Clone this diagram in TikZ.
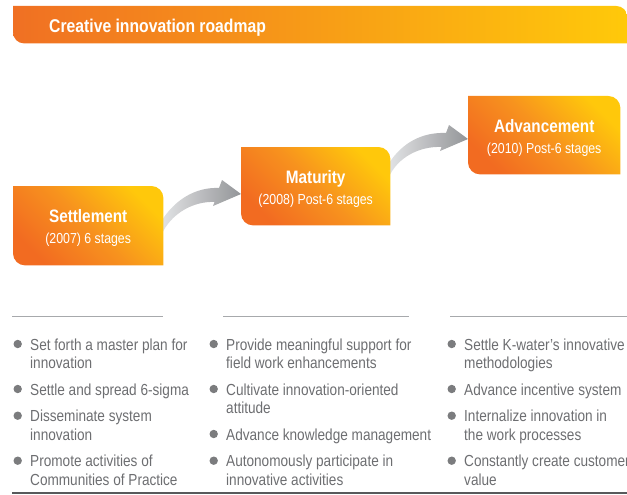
\documentclass[tikz,border=0pt]{standalone}
\usepackage{fontspec}
\setmainfont{Liberation Sans}[FakeStretch=0.85]
\usetikzlibrary{calc}
\definecolor{kOrange}{HTML}{F26B21}
\definecolor{kMid}{HTML}{F7921E}
\definecolor{kYellow}{HTML}{FFC80B}
\definecolor{kHeadL}{HTML}{F07023}
\definecolor{kHeadR}{HTML}{FFC90A}
\definecolor{kGrayText}{HTML}{6D6E71}
\definecolor{kDot}{HTML}{7B7C7E}
\definecolor{kRule}{HTML}{A7A9AC}
\definecolor{kRuleDark}{HTML}{58595B}
\definecolor{kArrowL}{HTML}{E2E3E5}
\definecolor{kArrowD}{HTML}{939598}

% leaf-shaped outline: top-right and bottom-left corners rounded
\newcommand\leafshape[2]{%
  (#1.north west) -- ($(#1.north east)+(-#2,0)$)
  .. controls ($(#1.north east)+(-0.45*#2,0)$) and ($(#1.north east)+(0,0.45*#2)$) ..
  ($(#1.north east)+(0,#2)$) -- (#1.south east) -- ($(#1.south west)+(#2,0)$)
  .. controls ($(#1.south west)+(0.45*#2,0)$) and ($(#1.south west)+(0,-0.45*#2)$) ..
  ($(#1.south west)+(0,-#2)$) -- cycle}

% curved gray arrow from tail coordinate #1 (lower tail point) to tip coordinate #2
\newcommand\grayarrow[2]{%
  \shade[left color=kArrowL, right color=kArrowD]
    ($(#1)+(-2,0)$) -- ($(#1)+(-2,-14)$)
    .. controls ($(#1)+(12,-36)$) and ($(#2)+(-45,-7)$) .. ($(#2)+(-22,-6)$)
    -- ($(#2)+(-19,-14)$) -- (#2) -- ($(#2)+(-28,12)$) -- ($(#2)+(-26.5,8)$)
    .. controls ($(#2)+(-48,7)$) and ($(#1)+(7,-21)$) .. ($(#1)+(-2,0)$) -- cycle;}

\newcommand\bul[4]{%
  \node[btxt] (#1) at (#2,#3) {#4};
  \fill[kDot] ($(#1.base west)+(-12.3,-6)$) circle (4.2pt);}
\newcommand\bline[4]{\node[btxt] (#1) at (#2,#3) {#4};}

\begin{document}
\begin{tikzpicture}[x=1pt,y=-1pt,
  boxn/.style={shape=rectangle, inner sep=0pt, anchor=north west},
  boxfill/.style={bottom color=kOrange, top color=kYellow, middle color=kMid, shading angle=-45},
  ttl/.style={text=white, anchor=base, inner sep=0pt, font=\bfseries\fontsize{18}{20}\selectfont},
  sub/.style={text=white, anchor=base, inner sep=0pt, font=\fontsize{14.5}{16}\selectfont},
  btxt/.style={text=kGrayText, anchor=base west, inner sep=0pt, font=\fontsize{16}{18}\selectfont},
  rule/.style={draw=kRule, line width=0.9pt},
]
\useasboundingbox (0,0) rectangle (627,495);

% header bar
\node[boxn, minimum width=614pt, minimum height=37pt] (header) at (13,6) {};
\shade[left color=kHeadL, right color=kHeadR] \leafshape{header}{11};
\node[text=white, anchor=base west, inner sep=0pt,
      font=\bfseries\fontsize{18.5}{20}\selectfont] (htitle) at (49,33) {Creative innovation roadmap};

% stage boxes (positions)
\node[boxn, minimum width=150pt, minimum height=79pt] (s) at (13,186) {};
\node[boxn, minimum width=149pt, minimum height=78pt] (m) at (241,147) {};
\node[boxn, minimum width=152pt, minimum height=78pt] (a) at (468,96) {};

% arrows (drawn below the boxes)
\coordinate (a1t) at ($(s.north east)+(0,49)$);
\coordinate (a1h) at ($(m.north west)+(0,47)$);
\coordinate (a2t) at ($(m.north east)+(0,31)$);
\coordinate (a2h) at ($(a.north west)+(0,43)$);
\grayarrow{a1t}{a1h}
\grayarrow{a2t}{a2h}

% box fills
\shade[boxfill] \leafshape{s}{12};
\shade[boxfill] \leafshape{m}{12};
\shade[boxfill] \leafshape{a}{12};

\node[ttl] (s1) at ($(s.north)+(0,36)$) {Settlement};
\node[sub] (s2) at ($(s.north)+(0,57)$) {(2007) 6 stages};
\node[ttl] (m1) at ($(m.north)+(0,36)$) {Maturity};
\node[sub] (m2) at ($(m.north)+(0,57)$) {(2008) Post-6 stages};
\node[ttl] (a1) at ($(a.north)+(0,36)$) {Advancement};
\node[sub] (a2) at ($(a.north)+(0,57)$) {(2010) Post-6 stages};

% dividers
\draw[rule] (12,316) -- (163,316);
\draw[rule] (223,316) -- (409,316);
\draw[rule] (450,316) -- (627,316);
\draw[draw=kRuleDark, line width=1.3pt] (12,493) -- (627,493);

% column 1
\bul{c1a}{30}{350}{Set forth a master plan for}
\bline{c1a2}{30}{368.3}{innovation}
\bul{c1b}{30}{395}{Settle and spread 6-sigma}
\bul{c1c}{30}{421.7}{Disseminate system}
\bline{c1c2}{30}{440}{innovation}
\bul{c1d}{30}{466.7}{Promote activities of}
\bline{c1d2}{30}{485}{Communities of Practice}

% column 2
\bul{c2a}{226}{350}{Provide meaningful support for}
\bline{c2a2}{226}{368.3}{field work enhancements}
\bul{c2b}{226}{395}{Cultivate innovation-oriented}
\bline{c2b2}{226}{413.3}{attitude}
\bul{c2c}{226}{440}{Advance knowledge management}
\bul{c2d}{226}{466.7}{Autonomously participate in}
\bline{c2d2}{226}{485}{innovative activities}

% column 3
\bul{c3a}{464}{350}{Settle K-water’s innovative}
\bline{c3a2}{464}{368.3}{methodologies}
\bul{c3b}{464}{395}{Advance incentive system}
\bul{c3c}{464}{421.7}{Internalize innovation in}
\bline{c3c2}{464}{440}{the work processes}
\bul{c3d}{464}{466.7}{Constantly create customer}
\bline{c3d2}{464}{485}{value}
\end{tikzpicture}
\end{document}
